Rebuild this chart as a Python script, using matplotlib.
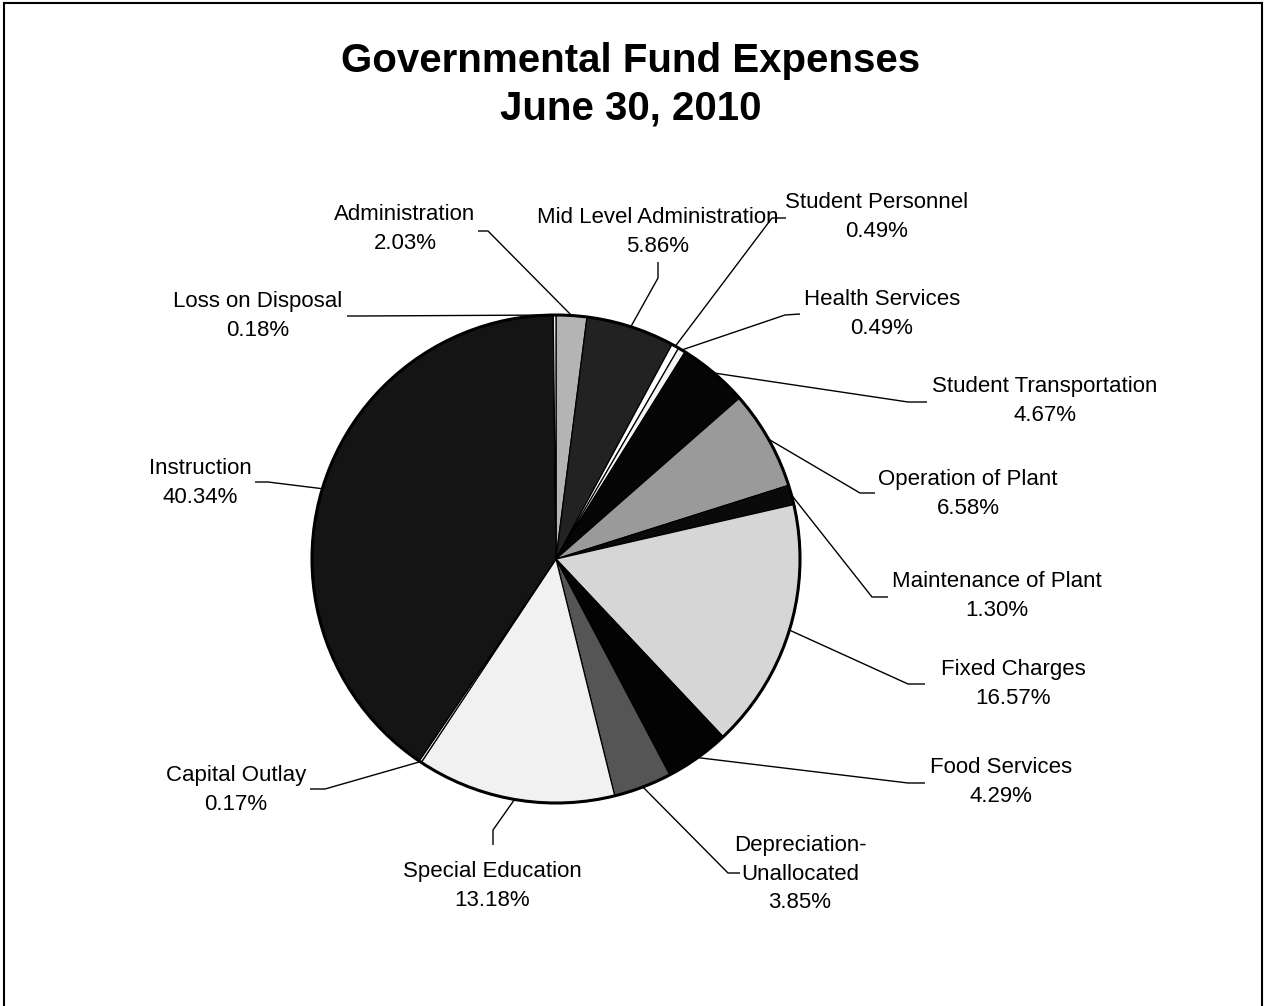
import numpy as np
import matplotlib
matplotlib.use("Agg")
import matplotlib.pyplot as plt
from matplotlib.patches import Circle
from matplotlib.lines import Line2D

# expense categories, clockwise from 12 o'clock
categories = ["Administration", "Mid Level Administration", "Student Personnel",
              "Health Services", "Student Transportation", "Operation of Plant",
              "Maintenance of Plant", "Fixed Charges", "Food Services",
              "Depreciation-\nUnallocated", "Special Education", "Capital Outlay",
              "Instruction", "Loss on Disposal"]
percents = [2.03, 5.86, 0.49, 0.49, 4.67, 6.58, 1.30, 16.57, 4.29, 3.85,
            13.18, 0.17, 40.34, 0.18]

# grey shades standing in for the scanned fill patterns
shades = ["#b4b4b4", "#222222", "#ffffff", "#f4f4f4", "#050505", "#9a9a9a",
          "#0a0a0a", "#d6d6d6", "#030303", "#555555", "#f1f1f1", "#e8e8e8",
          "#141414", "#f0f0f0"]

# label layout in pixels: text centre, then the short stub of each leader
label_xy = [(405, 229), (658, 232), (877, 217), (882, 314), (1045, 401),
            (968, 494), (997, 596), (1013, 684), (1001, 782), (800, 874),
            (492, 886), (236, 790), (200, 483), (258, 316)]
stubs = [((478, 231), (488, 231)), ((658, 262), (658, 278)),
         ((786, 218), (772, 218)), ((800, 314), (785, 315)),
         ((927, 402), (908, 402)), ((875, 493), (860, 493)),
         ((888, 597), (872, 597)), ((925, 684), (908, 684)),
         ((925, 783), (908, 783)), ((740, 873), (728, 873)),
         ((493, 845), (493, 830)), ((310, 789), (325, 789)),
         ((255, 482), (268, 482)), ((347, 316), (360, 316))]

W, H = 1265, 1006
CX, CY, R = 556, 559, 244


def px(x, y):
    # pixel position -> data coords (pie radius = 1)
    return (x - CX) / R, (CY - y) / R


plt.rcParams["font.family"] = ["Liberation Sans", "DejaVu Sans"]
fig = plt.figure(figsize=(W / 100, H / 100), dpi=100)
ax = fig.add_axes([0, 0, 1, 1])

wedges, _ = ax.pie(percents, colors=shades, startangle=90, counterclock=False,
                   radius=1, wedgeprops=dict(edgecolor="black", linewidth=0.9))
ax.add_patch(Circle((0, 0), 1, fill=False, edgecolor="black", linewidth=2.2, zorder=5))

ax.set_xlim(-CX / R, (W - CX) / R)
ax.set_ylim((CY - H) / R, CY / R)
ax.set_aspect("equal")
ax.axis("off")

for w, name, pct, pos, stub in zip(wedges, categories, percents, label_xy, stubs):
    mid = np.deg2rad((w.theta1 + w.theta2) / 2)
    ex, ey = np.cos(mid), np.sin(mid)
    s0 = px(*stub[0])
    s1 = px(*stub[1])
    ax.plot([s0[0], s1[0], ex], [s0[1], s1[1], ey], color="black", lw=1.0,
            zorder=6, solid_capstyle="butt")
    tx, ty = px(*pos)
    ax.text(tx, ty, f"{name}\n{pct:.2f}%", ha="center", va="center",
            fontsize=16, linespacing=1.5, color="black")

fig.text(631 / W, 1 - 85 / H, "Governmental Fund Expenses\nJune 30, 2010",
         ha="center", va="center", fontsize=29, fontweight="bold", linespacing=1.31)

# page frame (no bottom edge visible)
x0, x1, y0 = 4 / W, 1262 / W, 1 - 3 / H
for xs, ys in [([x0, x1], [y0, y0]), ([x0, x0], [0, y0]), ([x1, x1], [0, y0])]:
    fig.add_artist(Line2D(xs, ys, color="black", lw=1.5))

fig.savefig("out.png", dpi=100, facecolor="white")
